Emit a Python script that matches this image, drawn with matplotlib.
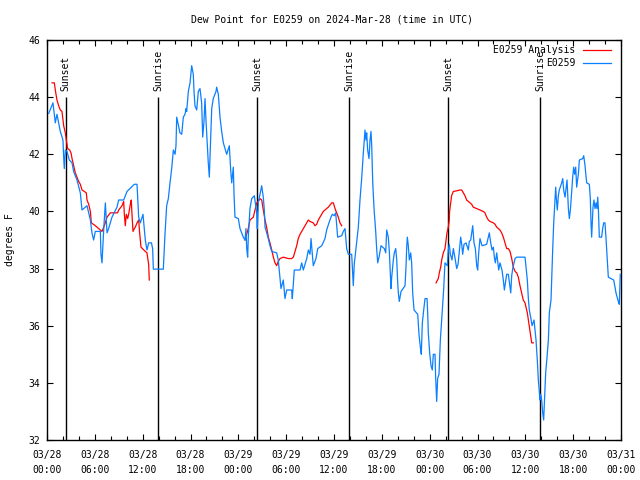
#
# Dew point for E0259, gnuplot-style time series
#
import numpy as np
import pandas as pd
import matplotlib
matplotlib.use('Agg')
import matplotlib.pyplot as plt
import matplotlib.dates as mdates

plt.rcParams['font.family'] = ['DejaVu Sans Mono']
plt.rcParams['font.size'] = 7

# Data: hours since 2024-03-28 00:00 UTC, dew point in degrees F
start = pd.Timestamp('2024-03-28 00:00')

obs_hours = [0.21, 0.75, 1.04, 1.25, 1.67, 2.0, 2.09, 2.17, 2.3, 2.5, 2.8, 3.14, 3.34, 3.76,
             4.18, 4.39, 4.81, 5.02, 5.44, 5.64, 5.85, 6.06, 6.69, 6.77, 6.9, 7.11, 7.32, 7.53,
             7.73, 8.15, 8.78, 8.99, 9.62, 10.04, 10.95, 11.29, 11.5, 11.71, 12.04, 12.33,
             12.54, 12.75, 13.1, 13.25, 13.34, 14.59, 14.8, 15.01, 15.22, 15.43, 15.64, 15.85,
             16.06, 16.18, 16.27, 16.68, 16.9, 17.1, 17.31, 17.44, 17.52, 17.73, 17.94, 18.15,
             18.35, 18.44, 18.56, 18.78, 18.98, 19.19, 19.4, 19.53, 19.69, 19.82, 19.94, 20.23,
             20.36, 20.53, 20.66, 20.86, 21.2, 21.28, 21.49, 21.7, 21.91, 22.12, 22.54, 22.87,
             23.04, 23.17, 23.37, 23.46, 23.58, 24.0, 24.21, 24.62, 24.84, 24.96, 25.05, 25.17,
             25.25, 25.46, 25.68, 26.01, 26.3, 26.38, 26.51, 26.72, 26.93, 27.13, 27.26, 27.35,
             27.76, 27.97, 28.19, 28.81, 29.01, 29.35, 29.64, 29.85, 30.07, 30.69, 30.77, 31.02,
             31.74, 31.95, 32.15, 32.58, 32.78, 32.99, 33.12, 33.4, 33.74, 33.96, 34.46, 34.87,
             35.08, 35.37, 35.62, 35.79, 36.04, 36.21, 36.34, 36.46, 36.97, 37.17, 37.38, 37.59,
             37.8, 38.22, 38.42, 38.55, 38.64, 39.05, 39.26, 39.47, 39.68, 39.8, 39.89, 40.01,
             40.1, 40.22, 40.39, 40.52, 40.64, 40.73, 40.86, 41.02, 41.23, 41.35, 41.48, 41.65,
             41.9, 42.31, 42.49, 42.61, 42.81, 42.94, 43.03, 43.15, 43.24, 43.44, 43.57, 43.74,
             43.87, 43.99, 44.07, 44.19, 44.41, 44.91, 45.03, 45.12, 45.2, 45.32, 45.45, 45.62,
             45.74, 45.87, 46.04, 46.5, 46.66, 46.83, 46.95, 47.08, 47.25, 47.42, 47.67, 47.75,
             47.83, 48.0, 48.17, 48.33, 48.46, 48.67, 48.75, 48.88, 49.0, 49.17, 49.34, 49.51,
             49.67, 49.76, 49.92, 50.21, 50.34, 50.46, 50.6, 50.8, 50.97, 51.22, 51.39, 51.56,
             51.72, 51.89, 52.02, 52.14, 52.31, 52.56, 52.85, 52.97, 53.15, 53.27, 53.4, 53.56,
             53.73, 53.9, 54.02, 54.15, 54.31, 54.57, 55.15, 55.48, 55.66, 55.82, 55.99, 56.11,
             56.24, 56.41, 56.66, 56.82, 57.07, 57.24, 57.37, 57.66, 57.87, 58.17, 58.29, 58.42,
             58.71, 58.92, 59.96, 60.09, 60.25, 60.38, 60.5, 60.67, 60.84, 61.09, 61.34, 61.5,
             61.63, 61.84, 61.93, 62.05, 62.18, 62.3, 62.39, 62.55, 62.72, 62.89, 63.01, 63.22,
             63.31, 63.43, 63.56, 63.72, 63.81, 63.89, 64.01, 64.14, 64.26, 64.56, 64.69, 64.81,
             64.98, 65.23, 65.4, 65.52, 65.65, 65.82, 65.94, 66.07, 66.19, 66.32, 66.44, 66.65,
             66.78, 67.2, 67.32, 67.49, 67.57, 67.7, 68.03, 68.15, 68.24, 68.32, 68.4, 68.49,
             68.61, 68.74, 68.87, 68.99, 69.08, 69.16, 69.28, 69.57, 69.7, 69.83, 69.99, 70.11,
             70.24, 70.41, 71.08, 71.25, 71.37, 71.66, 71.79, 71.91]
obs_vals = [43.43, 43.8, 43.1, 43.4, 42.8, 42.5, 41.9, 41.5, 42.15, 42.1, 41.8, 41.7, 41.4, 41.1,
            40.65, 40.05, 40.15, 40.2, 39.7, 39.25, 39.0, 39.3, 39.3, 38.5, 38.2, 39.35, 40.3, 39.25,
            39.4, 39.8, 40.15, 40.4, 40.4, 40.7, 40.95, 40.95, 39.8, 39.6, 39.9, 39.0,
            38.65, 38.9, 38.9, 38.7, 37.98, 37.98, 39.2, 40.2, 40.45, 41.0, 41.5, 42.15,
            42.0, 42.3, 43.3, 42.75, 42.7, 43.3, 43.4, 43.6, 43.5, 44.2, 44.5, 45.1,
            44.8, 44.2, 43.7, 43.55, 44.2, 44.3, 43.8, 42.6, 43.15, 43.95, 43.2, 41.7,
            41.2, 42.6, 43.6, 43.95, 44.2, 44.35, 44.1, 43.3, 42.8, 42.4, 42.0, 42.3,
            41.45, 41.0, 41.55, 40.6, 39.8, 39.75, 39.4, 39.1, 39.0, 39.4, 38.7, 38.4,
            39.1, 40.1, 40.45, 40.55, 39.95, 39.4, 40.35, 40.6, 40.9, 40.5, 40.05, 39.45,
            39.05, 38.8, 38.6, 38.55, 38.3, 37.3, 37.6, 36.95, 37.25, 37.25, 36.95, 37.95,
            37.95, 38.2, 37.95, 38.35, 38.65, 38.5, 39.05, 38.1, 38.35, 38.7, 38.8, 39.05,
            39.35, 39.6, 39.8, 39.9, 39.85, 39.95, 39.5, 39.1, 39.15, 39.3, 39.4, 38.7,
            38.5, 38.5, 37.4, 38.2, 38.4, 39.45, 40.4, 41.15, 42.05, 42.5, 42.85, 42.5,
            42.75, 42.15, 41.85, 42.5, 42.8, 42.3, 41.0, 40.1, 39.3, 38.7, 38.2, 38.4,
            38.8, 38.7, 38.55, 39.35, 39.1, 38.6, 38.05, 37.3, 37.7, 38.3, 38.55, 38.7,
            38.3, 37.5, 37.15, 36.85, 37.2, 37.4, 38.05, 38.75, 39.1, 38.8, 38.3, 38.55,
            38.2, 37.15, 36.55, 36.4, 35.7, 35.25, 35.0, 36.1, 36.55, 36.95, 36.95, 36.45,
            35.75, 35.05, 34.6, 34.45, 35.0, 35.0, 34.2, 33.35, 34.15, 34.3, 35.5, 36.2,
            36.9, 37.3, 38.2, 38.1, 38.65, 38.85, 38.5, 38.3, 38.7, 38.3, 38.0, 38.15,
            38.6, 39.1, 38.85, 38.5, 38.85, 38.9, 38.65, 38.95, 39.0, 39.25, 39.5, 38.9,
            38.7, 38.1, 37.95, 38.55, 39.05, 38.8, 38.85, 39.25, 38.9, 38.65, 38.75, 38.4,
            38.2, 38.55, 37.95, 38.2, 37.95, 37.6, 37.25, 37.8, 37.8, 37.15, 37.75, 38.0,
            38.35, 38.4, 38.4, 38.05, 37.6, 36.95, 36.55, 36.3, 36.0, 36.2, 35.5, 34.8,
            34.1, 33.4, 33.6, 33.4, 32.95, 32.7, 33.3, 34.35, 34.9, 35.5, 36.45, 36.9,
            37.7, 38.65, 39.6, 40.4, 40.85, 40.45, 40.05, 40.55, 40.75, 41.0, 41.15, 40.75,
            40.5, 41.1, 40.1, 39.75, 40.05, 40.7, 41.2, 41.55, 41.3, 41.55, 40.85, 41.3,
            41.8, 41.85, 41.95, 41.6, 41.35, 41.0, 40.95, 40.45, 39.6, 39.1, 39.6, 40.15,
            40.4, 40.1, 40.3, 40.1, 40.5, 40.1, 39.1, 39.1, 39.4, 39.6, 39.6, 39.1,
            38.5, 37.7, 37.6, 37.35, 37.15, 36.85, 36.75, 37.8]

# Analysis series; NaN marks the gaps between runs
ana_hours = [0.63, 0.92, 1.04, 1.25, 1.46, 1.67, 1.88, 2.09, 2.3, 2.42, 2.59, 2.84, 3.01, 3.14,
             3.34, 3.55, 3.76, 3.97, 4.18, 4.39, 4.68, 4.93, 5.02, 5.23, 5.44, 5.56, 6.06, 6.27,
             6.69, 6.9, 7.11, 7.32, 7.53, 7.94, 8.86, 8.99, 9.41, 9.62, 9.7, 9.82, 9.95, 10.12,
             10.24, 10.45, 10.57, 10.66, 10.79, 10.95, 11.08, 11.29, 11.5, 11.62, 11.79, 12.33,
             12.54, 12.75, 12.83,
             12.9,
             24.84, 25.05, 25.25, 25.46, 25.88, 26.09, 26.3, 26.51, 26.72, 26.93, 27.13, 27.35,
             27.55, 27.76, 27.97, 28.19, 28.39, 28.6, 28.81, 29.01, 29.23, 29.64, 30.27, 30.69,
             30.9, 31.11, 31.32, 31.52, 31.74, 31.95, 32.15, 32.36, 32.58, 32.78, 32.99, 33.4,
             33.62, 33.83, 34.03, 34.24, 34.46, 34.66, 35.08, 35.29, 35.71, 35.92, 36.13, 36.34,
             36.54, 36.75, 36.97,
             37.0,
             48.8, 49.08, 49.21, 49.38, 49.51, 49.71, 49.92, 50.05, 50.17, 50.34, 50.46, 50.5,
             50.75, 50.97, 51.39, 51.81, 52.02, 52.22, 52.43, 52.64, 52.85, 53.06, 53.27, 53.47,
             53.9, 54.31, 54.52, 54.73, 54.94, 55.15, 55.36, 55.57, 55.99, 56.2, 56.41, 56.62,
             56.82, 57.03, 57.24, 57.45, 57.66, 57.87, 58.08, 58.29, 58.49, 58.71, 58.92, 59.12,
             59.33, 59.54, 59.74, 59.96, 60.09, 60.25, 60.38, 60.5, 60.67, 60.8, 61.0]
ana_vals = [44.5, 44.5, 44.25, 43.9, 43.7, 43.55, 43.5, 43.0, 42.75, 42.5, 42.2, 42.15, 42.05, 41.85,
            41.6, 41.35, 41.2, 41.05, 40.95, 40.75, 40.7, 40.65, 40.4, 40.25, 40.0, 39.6, 39.5, 39.45,
            39.35, 39.3, 39.45, 39.6, 39.8, 39.95, 39.95, 40.05, 40.2, 40.35, 39.9, 39.5, 39.9, 39.75,
            39.9, 40.25, 40.4, 39.9, 39.3, 39.4, 39.45, 39.6, 39.7, 39.25, 38.75, 38.6,
            38.55, 38.15, 37.6,
            np.nan,
            39.0, 39.2, 39.4, 39.7, 39.8, 40.05, 40.3, 40.35, 40.45, 40.4, 40.05, 39.7,
            39.45, 39.1, 38.9, 38.65, 38.4, 38.2, 38.1, 38.25, 38.35, 38.4, 38.35, 38.35,
            38.4, 38.6, 38.8, 39.05, 39.2, 39.3, 39.4, 39.5, 39.6, 39.7, 39.65, 39.6,
            39.5, 39.55, 39.7, 39.8, 39.9, 40.0, 40.1, 40.15, 40.3, 40.3, 40.1, 39.95,
            39.8, 39.6, 39.5,
            np.nan,
            37.5, 37.65, 37.85, 38.05, 38.3, 38.55, 38.7, 39.0, 39.25, 39.45, 39.7, 40.0,
            40.55, 40.7, 40.72, 40.75, 40.75, 40.65, 40.55, 40.4, 40.35, 40.3, 40.25, 40.15,
            40.1, 40.05, 40.02, 40.0, 39.95, 39.8, 39.7, 39.65, 39.6, 39.55, 39.45, 39.4,
            39.35, 39.25, 39.1, 38.9, 38.7, 38.7, 38.6, 38.35, 38.05, 37.9, 37.85, 37.7,
            37.4, 37.15, 36.9, 36.8, 36.65, 36.45, 36.2, 35.95, 35.65, 35.4, 35.4]

# Sun events (UTC)
sun_times = ['2024-03-28 02:22', '2024-03-28 13:55', '2024-03-29 02:21',
             '2024-03-29 13:53', '2024-03-30 02:19', '2024-03-30 13:51']
sun_labels = ['Sunset', 'Sunrise', 'Sunset', 'Sunrise', 'Sunset', 'Sunrise']

obs_t = start + pd.to_timedelta(obs_hours, unit='h')
ana_t = start + pd.to_timedelta(ana_hours, unit='h')
sun_t = pd.to_datetime(sun_times)

fig = plt.figure(figsize=(6.4, 4.8), dpi=100)
ax = fig.add_axes([47/640, 40/480, 574/640, 400/480])

# Sunrise / sunset markers
ax.vlines(sun_t, 32, 44, colors='black', linewidth=1.0, zorder=1)
for t, lab in zip(sun_t, sun_labels):
    ax.text(t, 44.2, lab, rotation=90, ha='center', va='bottom', fontsize=7)

ana_line, = ax.plot(ana_t, ana_vals, color='#ff0000', linewidth=0.9, zorder=2)
obs_line, = ax.plot(obs_t, obs_vals, color='#0a7fff', linewidth=0.9, zorder=3)

ax.set_xlim(start, start + pd.Timedelta(hours=72))
ax.set_ylim(32, 46)
ax.set_yticks(np.arange(32, 47, 2))

ax.xaxis.set_major_locator(mdates.HourLocator(byhour=[0, 6, 12, 18]))
ax.xaxis.set_minor_locator(mdates.HourLocator(interval=2))
ax.xaxis.set_major_formatter(mdates.DateFormatter('%m/%d\n%H:%M'))

ax.tick_params(which='both', direction='in', top=True, right=True, colors='black')
ax.tick_params(which='major', length=4, width=0.8)
ax.tick_params(which='minor', length=3, width=0.8)
ax.tick_params(axis='x', pad=7)
ax.tick_params(axis='y', pad=5)
for sp in ax.spines.values():
    sp.set_linewidth(1.0)

fig.canvas.draw()
for lbl in ax.get_xticklabels():
    lbl.set_linespacing(1.6)

# Legend, gnuplot style: right-justified text, sample line to the right
leg_items = [('E0259 Analysis', '#ff0000'), ('E0259', '#0a7fff')]
for i, (name, col) in enumerate(leg_items):
    yy = 0.975 - i * 0.0325
    ax.text(0.92, yy, name, transform=ax.transAxes, ha='right', va='center', fontsize=7)
    ax.plot([0.934, 0.983], [yy, yy], color=col, linewidth=0.9, transform=ax.transAxes)

fig.text(0.519, 1 - 20/480, 'Dew Point for E0259 on 2024-Mar-28 (time in UTC)',
         ha='center', va='center', fontsize=7)
fig.text(0.016, 0.5, 'degrees F', rotation=90, ha='center', va='center', fontsize=7)

fig.savefig('out.png', dpi=100)
plt.close()
